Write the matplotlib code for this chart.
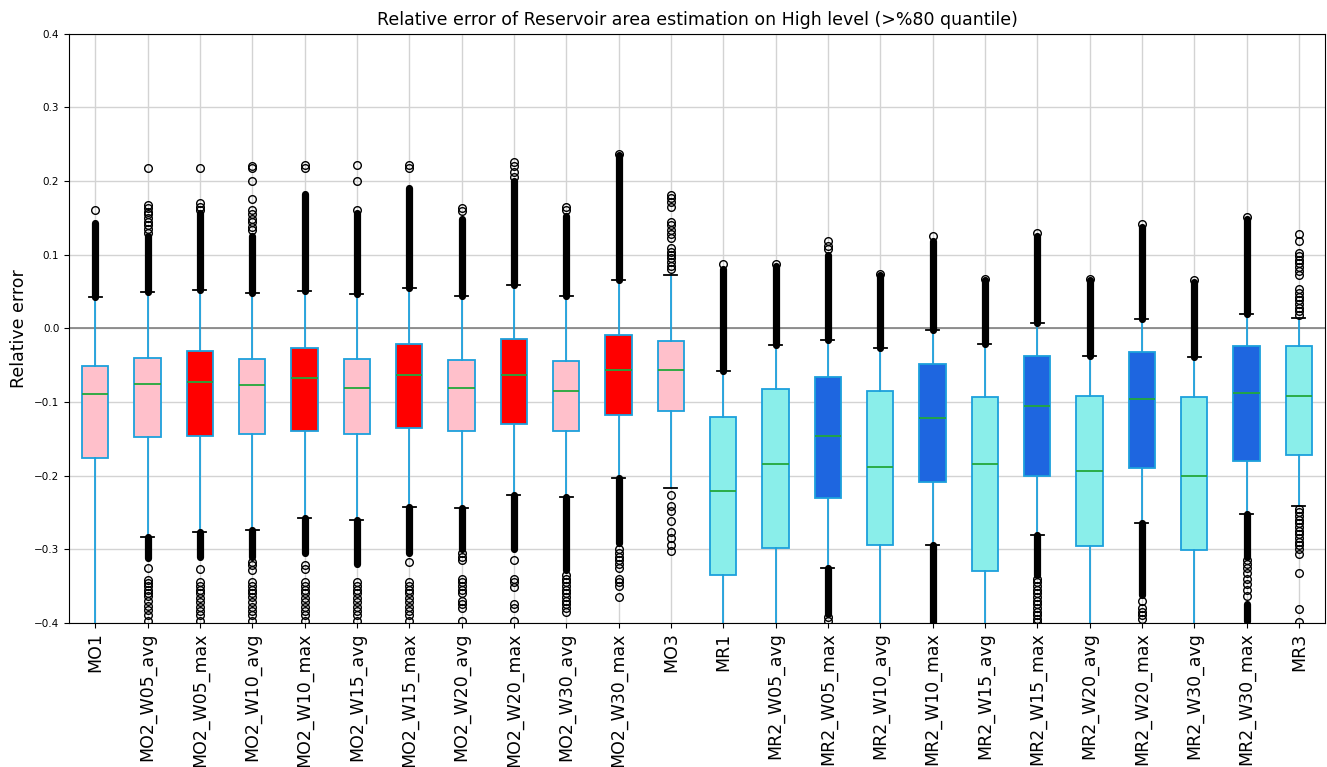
import numpy as np
import matplotlib
matplotlib.use("Agg")
import matplotlib.pyplot as plt

names = ["MO1", "MO2_W05_avg", "MO2_W05_max", "MO2_W10_avg", "MO2_W10_max",
         "MO2_W15_avg", "MO2_W15_max", "MO2_W20_avg", "MO2_W20_max",
         "MO2_W30_avg", "MO2_W30_max", "MO3",
         "MR1", "MR2_W05_avg", "MR2_W05_max", "MR2_W10_avg", "MR2_W10_max",
         "MR2_W15_avg", "MR2_W15_max", "MR2_W20_avg", "MR2_W20_max",
         "MR2_W30_avg", "MR2_W30_max", "MR3"]

med = [-0.089, -0.076, -0.073, -0.077, -0.068, -0.081, -0.064, -0.081, -0.063, -0.085, -0.056, -0.057,
       -0.221, -0.185, -0.146, -0.189, -0.122, -0.185, -0.106, -0.194, -0.096, -0.200, -0.088, -0.092]
q1 = [-0.176, -0.148, -0.146, -0.144, -0.140, -0.144, -0.135, -0.140, -0.130, -0.140, -0.118, -0.113,
      -0.335, -0.298, -0.231, -0.295, -0.209, -0.329, -0.200, -0.296, -0.190, -0.301, -0.180, -0.172]
q3 = [-0.051, -0.040, -0.031, -0.042, -0.027, -0.042, -0.021, -0.043, -0.015, -0.045, -0.009, -0.017,
      -0.120, -0.083, -0.066, -0.085, -0.048, -0.094, -0.037, -0.092, -0.032, -0.094, -0.024, -0.024]
whishi = [0.043, 0.049, 0.052, 0.048, 0.051, 0.046, 0.055, 0.044, 0.059, 0.044, 0.065, 0.073,
          -0.058, -0.023, -0.016, -0.027, -0.002, -0.021, 0.007, -0.037, 0.013, -0.039, 0.020, 0.014]
whislo = [-0.45, -0.284, -0.276, -0.274, -0.258, -0.260, -0.243, -0.244, -0.227, -0.229, -0.204, -0.217,
          -0.45, -0.45, -0.326, -0.45, -0.294, -0.45, -0.281, -0.45, -0.265, -0.45, -0.252, -0.241]

# runs of outliers so dense they merge into a solid column: (box index, low, high)
dense_runs = [
    (0, 0.043, 0.143), (1, 0.049, 0.125), (2, 0.052, 0.156), (3, 0.048, 0.125),
    (4, 0.051, 0.183), (5, 0.046, 0.156), (6, 0.055, 0.190), (7, 0.044, 0.148),
    (8, 0.059, 0.200), (9, 0.044, 0.152), (10, 0.065, 0.235),
    (12, -0.058, 0.081), (13, -0.023, 0.084), (14, -0.016, 0.100), (15, -0.027, 0.072),
    (16, -0.002, 0.118), (17, -0.021, 0.065), (18, 0.007, 0.125), (19, -0.037, 0.065),
    (20, 0.013, 0.137), (21, -0.039, 0.063), (22, 0.020, 0.148),
    (1, -0.312, -0.284), (2, -0.310, -0.276), (3, -0.310, -0.274), (4, -0.305, -0.258),
    (5, -0.320, -0.260), (6, -0.305, -0.243), (7, -0.300, -0.244), (8, -0.300, -0.227),
    (9, -0.328, -0.229), (10, -0.291, -0.204),
    (14, -0.388, -0.326), (16, -0.400, -0.294), (18, -0.335, -0.281),
    (20, -0.362, -0.265), (22, -0.310, -0.252), (22, -0.397, -0.374),
]

# scattered single outliers for each box
sparse_fliers = [
    [0.160],
    [0.130, 0.135, 0.140, 0.145, 0.150, 0.155, 0.158, 0.163, 0.167, 0.218,
     -0.326, -0.342, -0.346, -0.350, -0.355, -0.360, -0.364, -0.371, -0.377, -0.382, -0.389, -0.398],
    [0.160, 0.165, 0.170, 0.218,
     -0.327, -0.345, -0.350, -0.355, -0.360, -0.366, -0.372, -0.378, -0.384, -0.390, -0.398],
    [0.134, 0.138, 0.145, 0.148, 0.155, 0.160, 0.175, 0.200, 0.217, 0.221,
     -0.318, -0.322, -0.328, -0.345, -0.350, -0.355, -0.360, -0.365, -0.372, -0.378, -0.384, -0.390, -0.398],
    [0.218, 0.222,
     -0.322, -0.327, -0.345, -0.350, -0.355, -0.360, -0.366, -0.372, -0.378, -0.384, -0.390, -0.398],
    [0.160, 0.200, 0.222,
     -0.345, -0.350, -0.355, -0.360, -0.366, -0.372, -0.378, -0.384, -0.390, -0.398],
    [0.218, 0.222,
     -0.317, -0.345, -0.350, -0.355, -0.360, -0.366, -0.372, -0.378, -0.384, -0.390, -0.398],
    [0.159, 0.163,
     -0.305, -0.310, -0.315, -0.340, -0.345, -0.350, -0.355, -0.360, -0.370, -0.375, -0.380, -0.397],
    [0.205, 0.212, 0.220, 0.226,
     -0.315, -0.340, -0.345, -0.352, -0.375, -0.380, -0.397],
    [0.160, 0.165,
     -0.335, -0.340, -0.345, -0.350, -0.355, -0.360, -0.365, -0.370, -0.375, -0.380, -0.386],
    [0.237,
     -0.300, -0.305, -0.310, -0.315, -0.320, -0.326, -0.340, -0.345, -0.350, -0.365],
    [0.081, 0.085, 0.090, 0.095, 0.100, 0.104, 0.109, 0.122, 0.128, 0.134, 0.140, 0.145,
     0.165, 0.172, 0.177, 0.181,
     -0.227, -0.241, -0.248, -0.262, -0.276, -0.285, -0.294, -0.303],
    [0.087],
    [0.087],
    [0.108, 0.112, 0.119, -0.392, -0.397],
    [0.074],
    [0.125],
    [0.067],
    [0.129, -0.340, -0.345, -0.350, -0.355, -0.360, -0.365, -0.370, -0.375, -0.380,
     -0.385, -0.390, -0.395, -0.399],
    [0.067],
    [0.141, -0.370, -0.380, -0.385, -0.390, -0.395],
    [0.065],
    [0.151, -0.315, -0.320, -0.326, -0.333, -0.340, -0.347, -0.355, -0.363],
    [0.018, 0.023, 0.028, 0.033, 0.038, 0.043, 0.048, 0.053, 0.072, 0.078, 0.083, 0.088,
     0.093, 0.098, 0.102, 0.119, 0.128,
     -0.245, -0.250, -0.255, -0.260, -0.265, -0.270, -0.275, -0.280, -0.285, -0.290,
     -0.295, -0.300, -0.307, -0.332, -0.381, -0.399],
]

edge = "#1ca0dc"

def fill_for(name):
    if name.startswith("MO2") and name.endswith("_max"):
        return "red"
    if name.startswith("MR2") and name.endswith("_max"):
        return "#1e66e0"
    if name.startswith("MR"):
        return "#8aeeea"
    return "pink"

stats = []
for i, n in enumerate(names):
    stats.append(dict(label=n, med=med[i], q1=q1[i], q3=q3[i],
                      whislo=whislo[i], whishi=whishi[i], fliers=sparse_fliers[i]))

fig = plt.figure(figsize=(13.27, 7.67), dpi=100)
ax = fig.add_axes([0.052, 0.188, 0.9465, 0.768])

pos = np.arange(1, len(names) + 1)

# dense outlier columns
for i, lo, hi in dense_runs:
    lc = ax.vlines(pos[i], lo, hi, colors="black", linewidth=5.2, zorder=2.5)
    lc.set_capstyle("round")

bp = ax.bxp(stats, positions=pos, widths=0.5, patch_artist=True,
            boxprops=dict(edgecolor=edge, linewidth=1.3),
            whiskerprops=dict(color=edge, linewidth=1.3),
            capprops=dict(color="black", linewidth=1.3),
            medianprops=dict(color="#22a83c", linewidth=1.3),
            flierprops=dict(marker="o", markerfacecolor="none",
                            markeredgecolor="black", markersize=5.5, markeredgewidth=1.0))
for box, n in zip(bp["boxes"], names):
    box.set_facecolor(fill_for(n))

ax.axhline(0, color="#808080", linewidth=1.2, zorder=1)
ax.grid(True, color="#d3d3d3", linewidth=1.0)
ax.set_axisbelow(True)

ax.set_xlim(0.5, len(names) + 0.5)
ax.set_ylim(-0.4, 0.4)
ax.set_yticks([-0.4, -0.3, -0.2, -0.1, 0.0, 0.1, 0.2, 0.3, 0.4])
ax.set_xticks(pos)
ax.set_xticklabels(names, rotation=90, fontsize=12.5)
ax.tick_params(axis="y", labelsize=7.5)
ax.set_ylabel("Relative error", fontsize=12.5)
ax.set_title("Relative error of Reservoir area estimation on High level (>%80 quantile)", fontsize=12.5)

plt.savefig("out.png", dpi=100)
plt.close()
